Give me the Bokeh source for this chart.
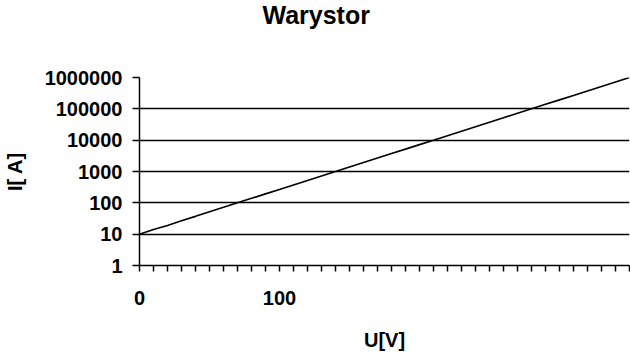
from bokeh.plotting import figure
from bokeh.models import FixedTicker, Range1d, Title
from bokeh.embed import file_html
from bokeh.resources import INLINE

# Data (U in volts, I on log axis)
U = [0, 10, 20, 30, 40, 50, 60, 70, 80, 90, 100, 110, 120, 130, 140, 150, 160, 170,
     180, 190, 200, 210, 220, 230, 240, 250, 260, 270, 280, 290, 300, 310, 320, 330,
     340, 350]
I = [10, 14, 19, 27, 37, 52, 72, 100, 139, 193, 268, 373, 518, 720, 1000, 1390, 1930,
     2680, 3730, 5180, 7200, 10000, 13900, 19300, 26800, 37300, 51800, 72000, 100000,
     139000, 193000, 268000, 373000, 518000, 720000, 1000000]

y_ticks = [1, 10, 100, 1000, 10000, 100000, 1000000]
y_tick_labels = ["1", "10", "100", "1000", "10000", "100000", "1000000"]
grid_ticks = [10, 100, 1000, 10000, 100000]
x_ticks = list(range(0, 360, 10))
x_tick_labels = {0: "0", 100: "100"}

FONT = "Liberation Sans"

p = figure(width=630, height=359, y_axis_type="log",
           x_range=Range1d(0, 350), y_range=Range1d(1, 1000000),
           output_backend="svg", toolbar_location=None,
           min_border_left=139, min_border_right=1, min_border_top=77,
           min_border_bottom=94)

p.outline_line_color = None
p.background_fill_color = "white"
p.border_fill_color = "white"

# spacer panel next to the frame, then the real title above it
spacer = Title(text=" ", text_font=FONT, text_font_size="25px", standoff=17)
p.add_layout(spacer, "above")
main_title = Title(text="Warystor", text_font=FONT, text_font_size="25px",
                   text_font_style="bold", text_color="black", align="left",
                   offset=123, vertical_align="top", standoff=0)
p.add_layout(main_title, "above")

p.line(U, I, line_color="black", line_width=1.6)

# X axis
xa = p.xaxis[0]
xa.ticker = FixedTicker(ticks=x_ticks)
xa.major_label_overrides = {t: x_tick_labels.get(t, "") for t in x_ticks}
xa.minor_tick_line_color = None
xa.major_tick_out = 6
xa.major_tick_in = 0
xa.major_tick_line_width = 1.5
xa.axis_line_width = 1.5
xa.axis_line_color = "black"
xa.major_tick_line_color = "black"
xa.major_label_text_font = FONT
xa.major_label_text_font_size = "20px"
xa.major_label_text_font_style = "bold"
xa.major_label_text_color = "black"
xa.major_label_standoff = 19
xa.axis_label = "U[V]"
xa.axis_label_text_font = FONT
xa.axis_label_text_font_size = "20px"
xa.axis_label_text_font_style = "bold"
xa.axis_label_text_color = "black"
xa.axis_label_standoff = 21

# Y axis
ya = p.yaxis[0]
ya.ticker = FixedTicker(ticks=y_ticks)
ya.major_label_overrides = {t: lab for t, lab in zip(y_ticks, y_tick_labels)}
ya.minor_tick_line_color = None
ya.major_tick_out = 7
ya.major_tick_in = 0
ya.major_tick_line_width = 1.5
ya.axis_line_width = 1.5
ya.axis_line_color = "black"
ya.major_tick_line_color = "black"
ya.major_label_text_font = FONT
ya.major_label_text_font_size = "20px"
ya.major_label_text_font_style = "bold"
ya.major_label_text_color = "black"
ya.major_label_standoff = 10
ya.axis_label = "I[ A]"
ya.axis_label_text_font = FONT
ya.axis_label_text_font_size = "20px"
ya.axis_label_text_font_style = "bold"
ya.axis_label_text_color = "black"
ya.axis_label_standoff = 16

p.xgrid.grid_line_color = None
p.ygrid.ticker = FixedTicker(ticks=grid_ticks)
p.ygrid.grid_line_color = "black"
p.ygrid.grid_line_width = 1.5

open("out.html", "w").write(file_html(p, INLINE))
